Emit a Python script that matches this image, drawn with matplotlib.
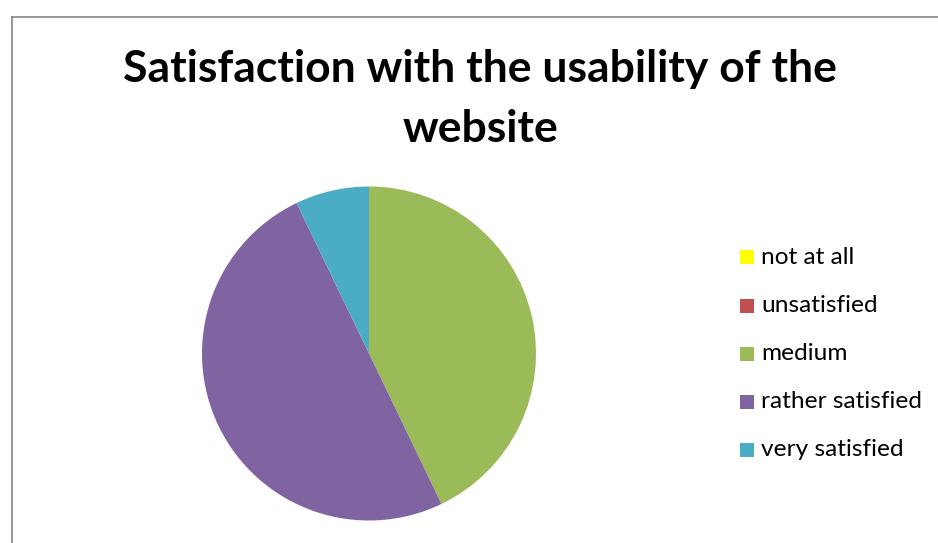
import matplotlib
matplotlib.use("Agg")
import matplotlib.pyplot as plt
from matplotlib.patches import Rectangle
from matplotlib.lines import Line2D

categories = ["not at all", "unsatisfied", "medium", "rather satisfied", "very satisfied"]
counts = [0, 0, 6, 7, 1]
colors = ["#FFFF00", "#C0504D", "#9BBB59", "#8064A2", "#4BACC6"]
title_lines = ["Satisfaction with the usability of the", "website"]

W, H = 938, 543
fig = plt.figure(figsize=(W / 100, H / 100), dpi=100)
fig.patch.set_facecolor("white")

# chart frame (left and top edges visible)
fig.add_artist(Line2D([11.5 / W, 11.5 / W], [0, 1 - 16.5 / H], transform=fig.transFigure,
                      color="#8c8c8c", lw=1.3))
fig.add_artist(Line2D([11.5 / W, 1], [1 - 16.5 / H, 1 - 16.5 / H], transform=fig.transFigure,
                      color="#8c8c8c", lw=1.3))

# pie
cx, cy, r = 369, 353.5, 167
ax = fig.add_axes([(cx - r) / W, (H - cy - r) / H, 2 * r / W, 2 * r / H])
ax.pie(counts, colors=colors, startangle=90, counterclock=False,
       wedgeprops=dict(linewidth=0), radius=1.0)
ax.set_xlim(-1, 1)
ax.set_ylim(-1, 1)
ax.set_aspect("auto")
ax.axis("off")

# title, one text per line (baselines in pixels from the top)
for line, yb in zip(title_lines, [82, 142]):
    fig.text(480 / W, 1 - yb / H, line, ha="center", va="baseline",
             fontsize=32, fontweight="bold", family="Lato")

# legend
y0, step = 257.5, 48
for i, (lab, col) in enumerate(zip(categories, colors)):
    y = y0 + i * step
    fig.add_artist(Rectangle((740 / W, 1 - (y + 7) / H), 14 / W, 14 / H,
                             transform=fig.transFigure, facecolor=col, edgecolor="none"))
    fig.text(761 / W, 1 - y / H, lab, ha="left", va="center", fontsize=17.6,
             family="Lato", color="black")

fig.savefig("out.png", dpi=100)
